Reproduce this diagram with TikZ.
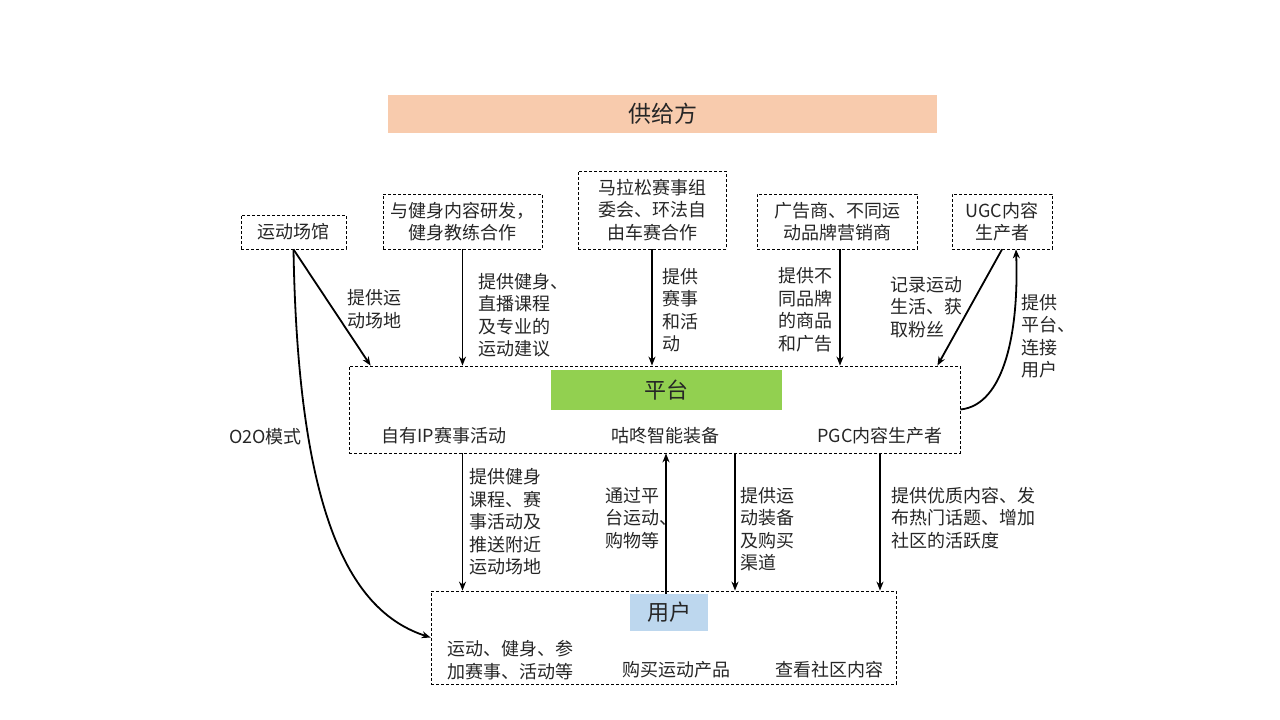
\documentclass[tikz,border=0pt]{standalone}
\usepackage{fontspec}
\setmainfont{Noto Sans CJK SC}
\usepackage{tikz}
\usetikzlibrary{positioning,arrows.meta,calc}
\definecolor{supplyc}{RGB}{248,203,173}
\definecolor{platc}{RGB}{146,208,80}
\definecolor{userc}{RGB}{189,215,238}
\definecolor{inkc}{RGB}{38,38,38}
\tikzset{
  party/.style  = {draw=black, line width=0.8pt, dash pattern=on 3pt off 2pt,
                   align=center, inner sep=0pt, text=inkc,
                   font=\fontsize{18}{22.5}\selectfont},
  banner/.style = {inner sep=0pt, text=inkc, font=\fontsize{22}{26}\selectfont},
  flow/.style   = {-{Stealth[length=9pt,width=7pt]}, line width=1.8pt, draw=black},
  lbl/.style    = {align=left, inner sep=0pt, anchor=west, text=inkc,
                   font=\fontsize{18}{22.5}\selectfont},
}

\begin{document}
\begin{tikzpicture}[x=1pt, y=-1pt]
\useasboundingbox (0,0) rectangle (1280,720);

% ---- supply side (top row) ----
\node[banner, fill=supplyc, minimum width=549pt, minimum height=38pt, font=\fontsize{23}{26}\selectfont] (supply) at (662.5,114) {供给方};

\node[party, minimum width=105pt, minimum height=34pt] (gym) at (293.5,232) {运动场馆};
\node[party, minimum width=159pt, minimum height=55pt] (fit) at (462.5,221.5) {与健身内容研发，\\健身教练合作};
\node[party, minimum width=148pt, minimum height=78pt] (race) at (652,210) {马拉松赛事组\\委会、环法自\\由车赛合作};
\node[party, minimum width=160pt, minimum height=55pt] (ads) at (837,221.5) {广告商、不同运\\动品牌营销商};
\node[party, minimum width=100pt, minimum height=55pt] (ugc) at (1002,221.5) {UGC内容\\生产者};

% ---- platform (middle) ----
\node[party, minimum width=611pt, minimum height=87pt] (plat) at (654.5,409.5) {};
\node[banner, fill=platc, minimum width=231pt, minimum height=40pt] (platlab) at (666.5,390) {平台};
\node[lbl, anchor=center] (ipevent) at (444,436) {自有IP赛事活动};
\node[lbl, anchor=center] (equip) at (665,436) {咕咚智能装备};
\node[lbl, anchor=center] (pgc) at (880,436) {PGC内容生产者};

% ---- users (bottom) ----
\node[party, minimum width=465pt, minimum height=93pt] (user) at (663.5,637.5) {};
\node[banner, fill=userc, minimum width=78pt, minimum height=37pt] (userlab) at (669,612.5) {用户};
\node[lbl] (doing) at (447,660) {运动、健身、参\\加赛事、活动等};
\node[lbl, anchor=center] (buying) at (676,670) {购买运动产品};
\node[lbl, anchor=center] (reading) at (829,670) {查看社区内容};

% ---- supply -> platform ----
\draw[flow] (gym.south) -- ([xshift=22pt]plat.north west);
\draw[flow] (fit.south) -- (fit.south |- plat.north);
\draw[flow] (race.south) -- (race.south |- plat.north);
\draw[flow] ([xshift=3pt]ads.south) -- ([xshift=3pt]ads.south |- plat.north);
\draw[flow] (ugc.south) -- ([xshift=-23pt]plat.north east);
\draw[flow] (plat.east) .. controls (1005,405) and (1019,330) .. ([xshift=14pt]ugc.south);
\draw[flow] (gym.south) .. controls (298,520) and (352,612) .. (user.west);

\node[lbl] (l-gym) at (347,309) {提供运\\动场地};
\node[lbl] (l-fit) at (478,315) {提供健身、\\直播课程\\及专业的\\运动建议};
\node[lbl] (l-race) at (662,310) {提供\\赛事\\和活\\动};
\node[lbl] (l-ads) at (778,310) {提供不\\同品牌\\的商品\\和广告};
\node[lbl] (l-ugc) at (890,307) {记录运动\\生活、获\\取粉丝};
\node[lbl] (l-conn) at (1021,336) {提供\\平台、\\连接\\用户};
\node[lbl] (l-o2o) at (229,437) {O2O模式};

% ---- platform <-> users ----
\coordinate (gearx) at (735,0);
\draw[flow] (fit.south |- plat.south) -- (fit.south |- user.north);
\draw[flow] ([xshift=-3pt]userlab.north) -- ([xshift=-3pt]userlab.north |- plat.south);
\draw[flow] (gearx |- plat.south) -- (gearx |- user.north);
\draw[flow] (pgc.south |- plat.south) -- (pgc.south |- user.north);

\node[lbl] (l-course) at (469,522) {提供健身\\课程、赛\\事活动及\\推送附近\\运动场地};
\node[lbl] (l-via) at (605,518) {通过平\\台运动、\\购物等};
\node[lbl] (l-gear) at (740,529) {提供运\\动装备\\及购买\\渠道};
\node[lbl] (l-pgc) at (891,518) {提供优质内容、发\\布热门话题、增加\\社区的活跃度};

\end{tikzpicture}
\end{document}
